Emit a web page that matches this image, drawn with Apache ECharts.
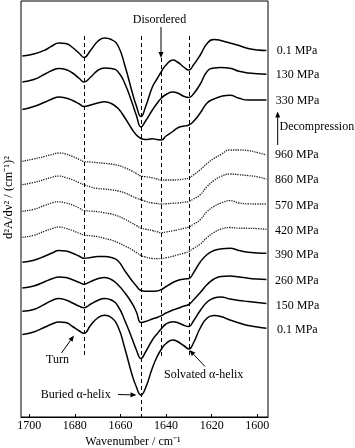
<!DOCTYPE html>
<html><head><meta charset="utf-8">
<script src="https://cdn.jsdelivr.net/npm/echarts@6/dist/echarts.min.js"></script>
<style>html,body{margin:0;padding:0;background:#fff}#c{width:355px;height:448px}</style>
</head><body><div id="c"></div>
<script>
// wavenumber grid (cm^-1)
const wavenumbers = [1703,1698,1693,1690,1687,1684,1681,1678,1676,1673,1670,1667,1664,1661,1658,1655,1653,1651,1649,1646,1644,1642,1640,1637,1635,1632,1630,1628,1625,1622,1619,1616,1612,1608,1604,1600,1596];
// stacked second-derivative spectra (arbitrary offset units)
const dec_0_1 = [361,363,367,371,374,373.5,369.5,363.5,359.5,367,375.5,379,377.5,371,351,326,311,300.5,310,330,338,345.5,352,357,355,349.5,347,352,362,373.5,377.5,376.5,374,371.5,368.5,367,366.5];
const dec_130 = [335,337.5,343,346.5,348.5,347.5,344,338.5,335,340,346.5,349,348.5,345,333,315,301.5,290,296,307,313.5,319,322.5,325,324,320.5,319.5,323,333,345.5,349,349.5,348.7,345.7,344,343.2,342.7];
const dec_330 = [307.5,310.5,315,318,320,319,316.5,313,310.5,312,314,315.2,313.5,308.5,299,288,282,278.5,277.5,278.2,277.5,277,281,285.5,289,291,292,295.5,304,314,318,320.5,321.8,318.7,317,317,317];
const p_960 = [255.7,258,260.7,262.5,264,263,260.5,257.5,255.5,254.9,254.3,253.7,253,251.6,249.2,246,243.5,241,240.3,239.2,238,237,237,237,237.2,238,239,242,247.2,253.5,258.5,262.4,267,267,266.4,264.5,262];
const p_860 = [232.3,234.5,237.7,239.8,240.9,239.5,237.2,234.2,232.3,230,228.5,228,227.1,226,224,220.8,218.8,217.3,215.7,214,213.5,213,213.2,213.7,214,214.8,215.7,218,222.3,230.5,236.5,240.5,243,242.3,241.4,240.2,237.8];
const p_570 = [205.7,207.7,211.7,214.1,215.2,214,212,208.8,206.5,205.9,205.3,204.2,203,200.8,197.7,194,191.4,188.9,187.8,186.5,185.4,184.4,185,186.2,187.1,188.7,190,192.7,197.4,205.5,210.5,213.9,216.3,214,213.2,213,213];
const p_420 = [179.7,181.7,186,188.4,190,188.7,186.5,183.7,182,181.2,180.3,178.7,177,174.3,171,167.5,164.5,161.5,160,158.5,158.3,158.5,159.3,160.7,162,164,165.5,168.5,173,179.5,184.5,187.8,189.5,188.8,188.7,188.4,187.7];
const p_390 = [154.7,156.8,161,164,166.4,166,163.8,160.7,158.8,159.5,160.4,160.5,159.5,156,146,136.5,131,126.5,125.8,125.8,126,127.5,130.5,134.5,136.5,138,138.5,144,155,162.5,166.5,168,168.7,166.5,164.7,164,163.7];
const p_260 = [129,131,135.5,138.2,140.1,139.5,137.2,134.5,132.8,135.5,138.2,139.5,137.5,132,124,114,105,94.5,95.5,98,99.5,101.5,104,107,108.5,111,112.5,117,124.5,132.5,138,140.5,141,140,138.8,138,137.5];
const p_150 = [105.7,107.5,113,116.5,118.5,117,114,110.7,109.3,113,116.5,118.5,117,110.5,96,79,67,58.5,65,77,83,88.5,93,95.3,94.5,91.5,90.5,96,106.5,115,119,120,118,116.5,115.5,114.5,113.5];
const p_0_1 = [82.5,85,90,93,95,94.5,90.5,86,83.7,92,99,101.7,99.5,90,68,43,30,22,29,49,60,68,73.5,77,75.5,71,68,74,89,99,101.5,100.5,97,94,91.5,90,88.7];

const seriesNames = ['0.1 MPa','130 MPa','330 MPa','960 MPa','860 MPa','570 MPa','420 MPa','390 MPa','260 MPa','150 MPa','0.1 MPa'];
const seriesValues = [dec_0_1,dec_130,dec_330,p_960,p_860,p_570,p_420,p_390,p_260,p_150,p_0_1];
const dottedSeries = [3,4,5,6];
const xTickValues = [1700,1680,1660,1640,1620,1600];
const bandPositions = [1676,1651,1642,1630];
const bandExtent = [[381,62],[381,0],[359,61],[381,62]];

const FONT = '"Liberation Serif", "Times New Roman", serif';
const chart = echarts.init(document.getElementById('c'));

const series = seriesValues.map((vals, i) => {
  const dotted = dottedSeries.includes(i);
  return {
    type: 'line', name: seriesNames[i] + '#' + i,
    data: wavenumbers.map((w, k) => [w, vals[k]]),
    smooth: 0.5, showSymbol: false, silent: true,
    lineStyle: dotted ? {color: '#222', width: 1.3, type: [1.3, 1.1]} : {color: '#000', width: 1.5},
    z: 3
  };
});
series[0].markLine = {
  silent: true, symbol: 'none', animation: false,
  label: {show: false},
  lineStyle: {color: '#000', width: 1, type: [4, 3]},
  data: bandPositions.map((w, i) => [{coord: [w, bandExtent[i][0]]}, {coord: [w, bandExtent[i][1]]}])
};

function arrow(x1, y1, x2, y2, head, hw) {
  head = head || 6; hw = hw || 2.5;
  const dx = x2 - x1, dy = y2 - y1, L = Math.hypot(dx, dy), ux = dx / L, uy = dy / L;
  const bx = x2 - ux * head, by = y2 - uy * head;
  return [
    {type: 'line', shape: {x1: x1, y1: y1, x2: bx, y2: by}, style: {stroke: '#000', lineWidth: 1}},
    {type: 'polygon', shape: {points: [[x2, y2], [bx - uy * hw, by + ux * hw], [bx + uy * hw, by - ux * hw]]}, style: {fill: '#000'}}
  ];
}
function txt(t, x, y, align, size, rot) {
  return {type: 'text', x: x, y: y, rotation: rot || 0,
    style: {text: t, font: (size || 12) + 'px ' + FONT, fill: '#000',
      align: align || 'center', verticalAlign: 'middle', textAlign: align || 'center', textVerticalAlign: 'middle'}};
}

// right-hand pressure labels, placed just past each curve's right end
const labelX = [276.7, 275.7, 275.7, 275, 275, 275, 275, 275, 275, 275.7, 277];
const labelDy = [0.7, 1, 1, 0, 0.3, 2, 2, 1.3, 1, 2, 1.7];

const graphics = [].concat(
  [txt('Disordered', 159.5, 19.5)],
  arrow(161, 27, 161, 58),
  [txt('Decompression', 279.5, 126.5, 'left')],
  arrow(277.7, 145, 277.7, 111.5),
  [txt('Turn', 57.5, 360)],
  arrow(61.5, 353, 74, 335.5),
  [txt('Buried \u03b1-helix', 75.7, 394.5)],
  arrow(118, 394.5, 136.5, 395),
  [txt('Solvated \u03b1-helix', 203.7, 374.5)],
  arrow(205, 366.5, 189.5, 350),
  [txt('Wavenumber / cm\u207b\u00b9', 133, 441.5)],
  [txt('d\u00b2A/d\u03bd\u00b2 / (cm\u207b\u00b9)\u00b2', 9, 197.5, 'center', 12.5, Math.PI / 2)]
);

chart.setOption({
  animation: false,
  backgroundColor: '#fff',
  grid: {left: 21, right: 87, top: 1, bottom: 31, show: true, borderColor: '#000', borderWidth: 1},
  xAxis: {
    type: 'value', inverse: true, min: 1595.3, max: 1703.6,
    axisLine: {show: true, lineStyle: {color: '#000', width: 1}},
    axisTick: {show: true, inside: true, length: 3, customValues: xTickValues, lineStyle: {color: '#000'}},
    axisLabel: {show: true, customValues: xTickValues, margin: 3, color: '#000', fontSize: 12, fontFamily: FONT,
      formatter: v => String(v)},
    splitLine: {show: false}
  },
  yAxis: {
    type: 'value', min: 0, max: 416,
    axisLine: {show: false}, axisTick: {show: false}, axisLabel: {show: false}, splitLine: {show: false}
  },
  series: series,
  graphic: graphics
});

// pressure labels tied to each series' last data point
const last = wavenumbers.length - 1;
const labels = seriesValues.map((vals, i) => {
  const p = chart.convertToPixel({gridIndex: 0}, [wavenumbers[last], vals[last]]);
  return txt(seriesNames[i], labelX[i], p[1] + labelDy[i], 'left');
});
chart.setOption({graphic: graphics.concat(labels)});
</script>
</body></html>
